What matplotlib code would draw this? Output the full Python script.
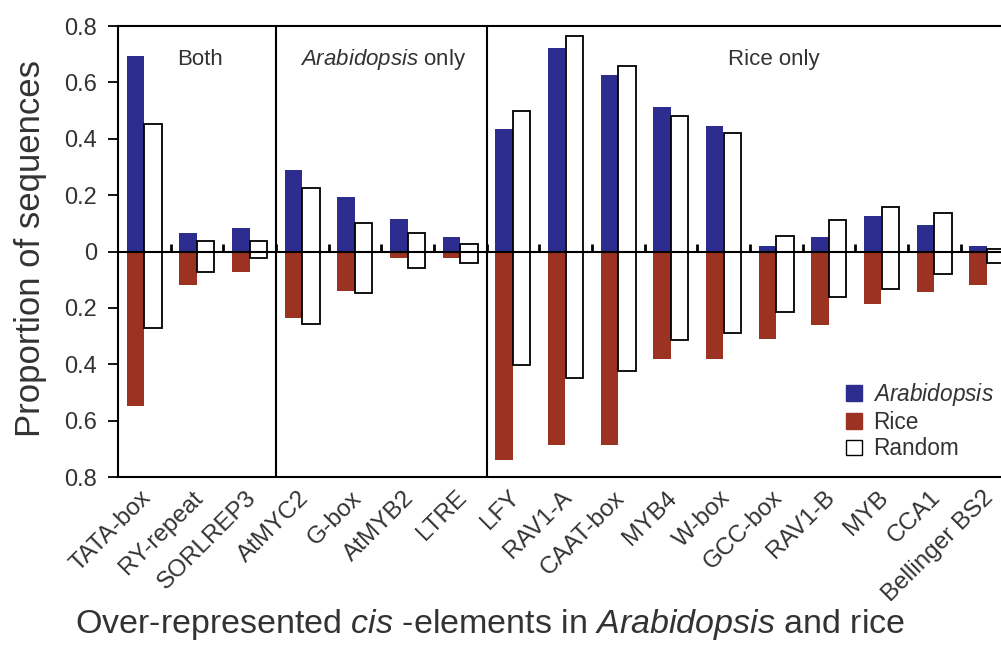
import matplotlib
matplotlib.use("Agg")
import matplotlib.pyplot as plt
import matplotlib.transforms as mtransforms
import numpy as np
from matplotlib.patches import Patch

plt.rcParams['font.family'] = ['Liberation Sans', 'DejaVu Sans']
plt.rcParams['mathtext.fontset'] = 'custom'
plt.rcParams['mathtext.rm'] = 'Liberation Sans'
plt.rcParams['mathtext.it'] = 'Liberation Sans:italic'

# cis-elements, grouped: Both | Arabidopsis only | Rice only
elements = ['TATA-box', 'RY-repeat', 'SORLREP3',
            'AtMYC2', 'G-box', 'AtMYB2', 'LTRE',
            'LFY', 'RAV1-A', 'CAAT-box', 'MYB4', 'W-box', 'GCC-box',
            'RAV1-B', 'MYB', 'CCA1', 'Bellinger BS2']
group_names = ['Both', '$\\it{Arabidopsis}$ only', 'Rice only']
group_sizes = [3, 4, 10]

# proportions (upper half: Arabidopsis vs random, lower half: rice vs random)
arabidopsis = [0.692, 0.065, 0.083, 0.290, 0.193, 0.115, 0.050,
               0.434, 0.722, 0.627, 0.512, 0.447, 0.018,
               0.050, 0.127, 0.095, 0.018]
random_up = [0.453, 0.039, 0.039, 0.227, 0.103, 0.067, 0.026,
             0.499, 0.766, 0.659, 0.482, 0.422, 0.056,
             0.112, 0.157, 0.138, 0.008]
rice = [0.548, 0.118, 0.071, 0.237, 0.140, 0.024, 0.024,
        0.740, 0.686, 0.686, 0.381, 0.381, 0.310,
        0.260, 0.187, 0.142, 0.118]
random_down = [0.272, 0.071, 0.024, 0.257, 0.146, 0.057, 0.041,
               0.402, 0.450, 0.424, 0.314, 0.288, 0.213,
               0.160, 0.134, 0.079, 0.041]

blue = '#2c2d8e'
red = '#9c3322'
txt = '#333333'

x = np.arange(len(elements)) + 0.5
w = 0.33

fig = plt.figure(figsize=(10.01, 6.53), dpi=100)
ax = fig.add_axes([0.118, 0.2695, 0.947, 0.6906])

ax.bar(x - 0.17, arabidopsis, w, color=blue, zorder=2)
ax.bar(x - 0.17, -np.array(rice), w, color=red, zorder=2)
ax.bar(x + 0.165, random_up, w, facecolor='white', edgecolor='black', lw=1.3, zorder=3)
ax.bar(x + 0.165, -np.array(random_down), w, facecolor='white', edgecolor='black', lw=1.3, zorder=3)

ax.axhline(0, color='black', lw=1.5, zorder=4)
bounds = np.arange(1, len(elements))
ax.vlines(bounds, 0, 0.025, color='black', lw=2, zorder=4)

# group dividers and titles
edges = np.cumsum([0] + group_sizes)
for e in edges[1:-1]:
    ax.axvline(e, color='black', lw=1.5, zorder=5)
title_x = [1.56, 5.03, 12.45]
for name, tx in zip(group_names, title_x):
    ax.text(tx, 0.68, name, ha='center', va='center', fontsize=16, color=txt)

ax.set_xlim(0, len(elements) + 1)
ax.set_ylim(-0.8, 0.8)
yt = np.arange(-0.8, 0.81, 0.2)
ax.set_yticks(yt)
ax.set_yticklabels(['0' if abs(v) < 1e-9 else f'{abs(v):.1f}' for v in yt], fontsize=17, color=txt)
ax.tick_params(axis='y', direction='out', length=7, width=1.3, pad=8)
ax.set_xticks(x)
ax.set_xticklabels(elements, rotation=45, ha='right', rotation_mode='anchor', fontsize=17.5, color=txt)
ax.tick_params(axis='x', length=0, pad=7)
shift = mtransforms.ScaledTranslation(-5 / 100, 0, fig.dpi_scale_trans)
for lab in ax.get_xticklabels():
    lab.set_transform(lab.get_transform() + shift)
for s in ax.spines.values():
    s.set_linewidth(1.5)

fig.text(0.03, 0.619, 'Proportion of sequences', rotation=90, ha='center', va='center', fontsize=25, color=txt)
fig.text(0.49, 0.043, 'Over-represented $\\it{cis}$ -elements in $\\it{Arabidopsis}$ and rice',
         ha='center', va='center', fontsize=24.5, color=txt)

handles = [Patch(facecolor=blue, edgecolor=blue), Patch(facecolor=red, edgecolor=red),
           Patch(facecolor='white', edgecolor='black')]
fig.legend(handles, ['$\\it{Arabidopsis}$', 'Rice', 'Random'], loc='upper left',
           bbox_to_anchor=(0.845, 0.417), frameon=False, fontsize=16.3,
           borderpad=0, borderaxespad=0,
           handlelength=0.7, handleheight=0.7, handletextpad=0.5, labelspacing=0.15,
           labelcolor=txt)

fig.savefig('out.png', dpi=100)
